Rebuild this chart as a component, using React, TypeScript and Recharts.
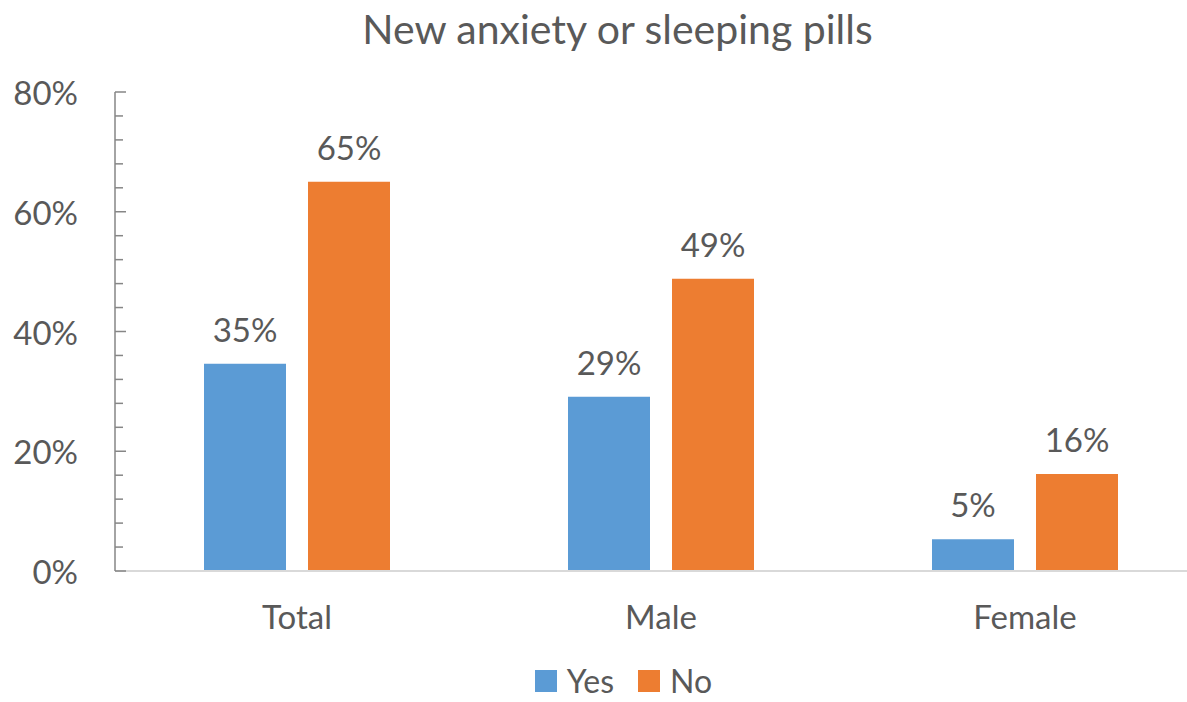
import { BarChart, Bar, XAxis, YAxis, Legend, LabelList } from 'recharts';

const categories = ['Total', 'Male', 'Female'];
const yesValues = [34.6, 29.1, 5.3];
const noValues = [65.0, 48.8, 16.2];
const yTicks = [0, 4, 8, 12, 16, 20, 24, 28, 32, 36, 40, 44, 48, 52, 56, 60, 64, 68, 72, 76, 80];
const yLabelTicks = [0, 20, 40, 60, 80];

const data = categories.map((name, i) => ({ name, yes: yesValues[i], no: noValues[i] }));

const TEXT = '#595959';
const FONT = 'Lato, "Open Sans", sans-serif';
const FS = 33;

function YTick(props: any) {
  const { x, y, payload } = props;
  const major = yLabelTicks.includes(payload.value);
  return (
    <g>
      <line x1={x} x2={x + (major ? 11 : 8)} y1={y} y2={y} stroke="#868686" strokeWidth={1.5} />
      {major && (
        <text x={x - 37} y={y} textAnchor="end" dominantBaseline="central" fill={TEXT} fontSize={FS} fontFamily={FONT}>
          {payload.value}%
        </text>
      )}
    </g>
  );
}

function LegendContent() {
  const items = [
    { label: 'Yes', color: '#5B9BD5' },
    { label: 'No', color: '#ED7D31' },
  ];
  return (
    <div style={{ display: 'flex', justifyContent: 'center', alignItems: 'center', gap: 24, height: 32 }}>
      {items.map((it) => (
        <div key={it.label} style={{ display: 'flex', alignItems: 'center', gap: 10, height: 32 }}>
          <span style={{ width: 22, height: 22, background: it.color, display: 'inline-block' }} />
          <span style={{ color: TEXT, fontSize: 32, fontFamily: FONT, lineHeight: '32px' }}>{it.label}</span>
        </div>
      ))}
    </div>
  );
}

export default function App() {
  return (
    <div style={{ position: 'absolute', left: 0, top: 0, width: 1187, height: 702, overflow: 'hidden', background: '#fff', fontFamily: FONT }}>
      <div style={{ position: 'absolute', top: 4, left: 0, width: 1235, textAlign: 'center', color: TEXT, fontSize: 41, lineHeight: '50px' }}>
        New anxiety or sleeping pills
      </div>
      <BarChart
        width={1207}
        height={702}
        data={data}
        margin={{ top: 92, right: 0, bottom: 71, left: 0 }}
        barCategoryGap={89}
        barGap={22}
      >
        <XAxis
          dataKey="name"
          height={60}
          tickLine={false}
          tickSize={0}
          tickMargin={35}
          axisLine={{ stroke: '#D9D9D9', strokeWidth: 2 }}
          tick={{ fill: TEXT, fontSize: FS, fontFamily: FONT }}
        />
        <YAxis
          width={115}
          domain={[0, 80]}
          ticks={yTicks}
          interval={0}
          tickLine={false}
          tickSize={0}
          tickMargin={0}
          axisLine={{ stroke: '#868686', strokeWidth: 1.5 }}
          tick={<YTick />}
        />
        <Legend
          verticalAlign="middle"
          align="center"
          layout="horizontal"
          wrapperStyle={{ top: 665, left: 30, width: 1187, height: 32 }}
          content={<LegendContent />}
        />
        <Bar dataKey="yes" name="Yes" fill="#5B9BD5" isAnimationActive={false}>
          <LabelList
            dataKey="yes"
            position="top"
            offset={22}
            formatter={(v: any) => `${Math.round(v)}%`}
            fill={TEXT}
            fontSize={FS}
            fontFamily={FONT}
          />
        </Bar>
        <Bar dataKey="no" name="No" fill="#ED7D31" isAnimationActive={false}>
          <LabelList
            dataKey="no"
            position="top"
            offset={22}
            formatter={(v: any) => `${Math.round(v)}%`}
            fill={TEXT}
            fontSize={FS}
            fontFamily={FONT}
          />
        </Bar>
      </BarChart>
    </div>
  );
}
